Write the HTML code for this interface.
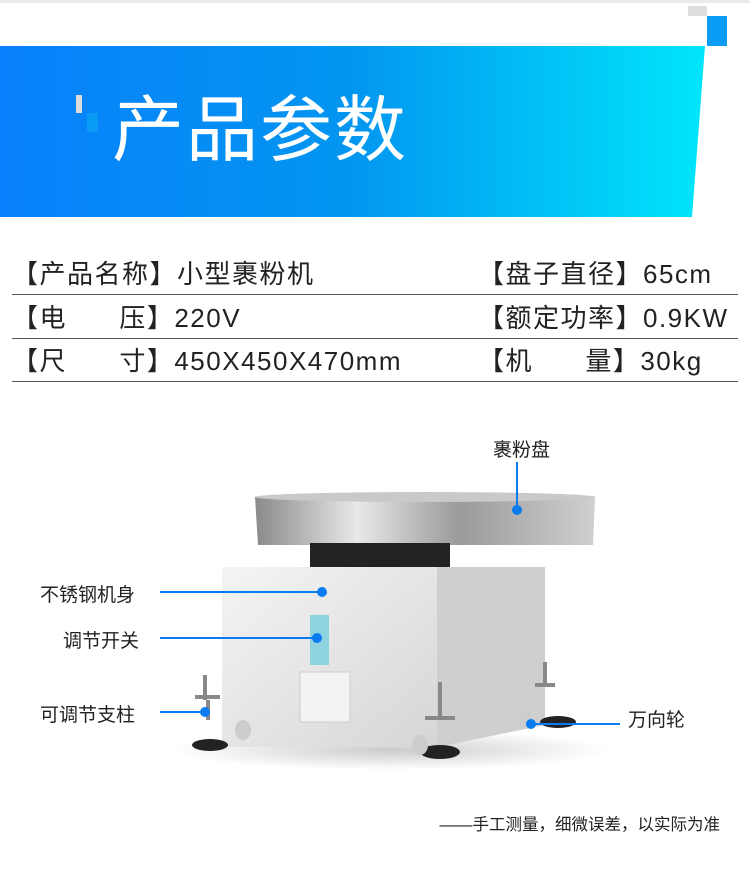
<!DOCTYPE html>
<html><head><meta charset="utf-8"><style>
body{margin:0;width:750px;height:872px;background:#fff;position:relative;overflow:hidden;font-family:"Liberation Sans","Noto Sans CJK SC",sans-serif;color:#222}
.a{position:absolute;white-space:nowrap}
.row{position:absolute;left:12px;font-size:26px;line-height:30px;letter-spacing:1.5px;white-space:nowrap}
.hl{position:absolute;left:12px;width:726px;height:1px;background:#555}
.lab{position:absolute;font-size:19px;white-space:nowrap;color:#222}
</style></head><body>
<div class="a" style="left:0;top:0;width:750px;height:3px;background:#eaeaea"></div>
<div class="a" style="left:688px;top:6px;width:19px;height:10px;background:#ddd"></div>
<div class="a" style="left:707px;top:16px;width:20px;height:30px;background:#0a9cf5"></div>
<svg class="a" style="left:0;top:46px" width="710" height="172"><defs><linearGradient id="g" x1="0" x2="1"><stop offset="0" stop-color="#0880fb"/><stop offset="0.5" stop-color="#0396f0"/><stop offset="1" stop-color="#00e6fb"/></linearGradient></defs><polygon points="0,0 705,0 692,171 0,171" fill="url(#g)"/></svg>
<div class="a" style="left:76px;top:95px;width:6px;height:18px;background:#ddd"></div>
<div class="a" style="left:87px;top:113px;width:11px;height:19px;background:#0a9cf5"></div>
<div class="a" style="left:112px;top:86px;font-size:72px;line-height:90px;color:#fff;letter-spacing:2px">产品参数</div>

<div class="row" style="top:259px">【产品名称】小型裹粉机</div>
<div class="row" style="top:259px;left:478px">【盘子直径】65cm</div>
<div class="hl" style="top:294px"></div>
<div class="row" style="top:303px">【电&nbsp;&nbsp;&nbsp;&nbsp;&nbsp;&nbsp;压】220V</div>
<div class="row" style="top:303px;left:478px">【额定功率】0.9KW</div>
<div class="hl" style="top:338px"></div>
<div class="row" style="top:346px">【尺&nbsp;&nbsp;&nbsp;&nbsp;&nbsp;&nbsp;寸】450X450X470mm</div>
<div class="row" style="top:346px;left:478px">【机&nbsp;&nbsp;&nbsp;&nbsp;&nbsp;&nbsp;量】30kg</div>
<div class="hl" style="top:381px"></div>

<svg class="a" style="left:0;top:400px" width="750" height="400">
<defs>
<linearGradient id="p" x1="0" x2="1"><stop offset="0" stop-color="#8a8a8a"/><stop offset="0.3" stop-color="#e8e8e8"/><stop offset="0.6" stop-color="#9a9a9a"/><stop offset="1" stop-color="#d0d0d0"/></linearGradient>
<linearGradient id="f" x1="0" x2="1" y1="0" y2="1"><stop offset="0" stop-color="#f4f4f4"/><stop offset="1" stop-color="#d6d6d6"/></linearGradient>
<radialGradient id="sh"><stop offset="0" stop-color="#ccc"/><stop offset="1" stop-color="#fff"/></radialGradient>
</defs>
<ellipse cx="390" cy="350" rx="220" ry="20" fill="url(#sh)"/>
<polygon points="255,97 595,97 593,145 258,145" fill="url(#p)"/>
<ellipse cx="425" cy="97" rx="170" ry="5" fill="#c9c9c9"/>
<rect x="310" y="143" width="140" height="24" fill="#222"/>
<rect x="222" y="167" width="215" height="180" fill="url(#f)"/>
<polygon points="437,167 545,167 545,325 437,347" fill="#cfcfcf"/>
<rect x="310" y="215" width="19" height="50" fill="#8fd3e0"/>
<rect x="300" y="272" width="50" height="50" fill="#f3f3f3" stroke="#ccc"/>
<path d="M205 275v25M195 297h25M208 300v20M545 262v25M535 285h20M440 282v35M425 318h30" stroke="#888" stroke-width="4"/>
<ellipse cx="210" cy="345" rx="18" ry="6" fill="#222"/>
<ellipse cx="440" cy="352" rx="20" ry="7" fill="#222"/>
<ellipse cx="558" cy="322" rx="18" ry="6" fill="#222"/>
<ellipse cx="243" cy="330" rx="8" ry="10" fill="#ccc"/>
<ellipse cx="420" cy="345" rx="8" ry="10" fill="#ccc"/>
<ellipse cx="525" cy="320" rx="7" ry="9" fill="#ccc"/>
<g stroke="#0a7cf0" stroke-width="2" fill="#0a7cf0">
<line x1="517" y1="62" x2="517" y2="110"/><circle cx="517" cy="110" r="4"/>
<line x1="160" y1="192" x2="322" y2="192"/><circle cx="322" cy="192" r="4"/>
<line x1="160" y1="238" x2="317" y2="238"/><circle cx="317" cy="238" r="4"/>
<line x1="160" y1="312" x2="205" y2="312"/><circle cx="205" cy="312" r="4"/>
<line x1="531" y1="324" x2="620" y2="324"/><circle cx="531" cy="324" r="4"/>
</g>
</svg>
<div class="lab" style="left:493px;top:435px">裹粉盘</div>
<div class="lab" style="left:40px;top:580px">不锈钢机身</div>
<div class="lab" style="left:63px;top:626px">调节开关</div>
<div class="lab" style="left:40px;top:700px">可调节支柱</div>
<div class="lab" style="left:628px;top:705px">万向轮</div>
<div class="a" style="right:30px;top:811px;font-size:16.5px;color:#222">——手工测量，细微误差，以实际为准</div>
</body></html>
